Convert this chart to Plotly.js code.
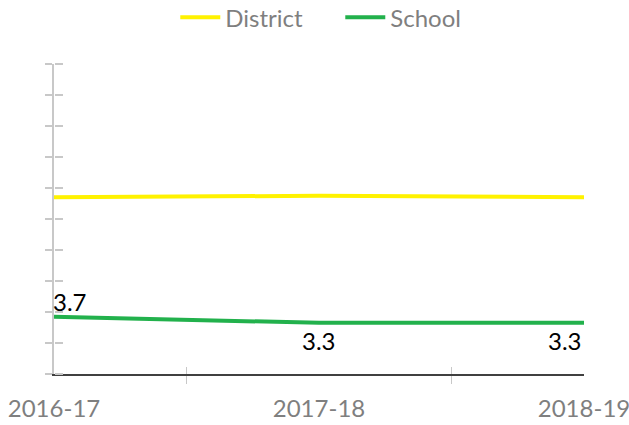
<!DOCTYPE html>
<html>
<head>
<meta charset="utf-8">
<script src="https://cdn.plot.ly/plotly-3.0.1.min.js"></script>
<style>html,body{margin:0;padding:0;background:#fff;}#chart{width:629px;height:425px;}</style>
</head>
<body>
<div id="chart"></div>
<script>
const years = ["2016-17", "2017-18", "2018-19"];
const district = [11.4, 11.5, 11.4];
const school = [3.7, 3.3, 3.3];
const schoolLabels = school.map(v => v.toFixed(1));

const FONT = "Lato, 'Open Sans', sans-serif";

const traces = [
  {
    x: years, y: district, name: "District", type: "scatter", mode: "lines",
    line: {color: "#FFF200", width: 4}, hoverinfo: "skip"
  },
  {
    x: years, y: school, name: "School", type: "scatter", mode: "lines",
    line: {color: "#22B14C", width: 4},
    hoverinfo: "skip"
  },
  {
    x: years, y: school, xaxis: "x", yaxis: "y2", type: "scatter", mode: "lines",
    line: {width: 1, color: "rgba(0,0,0,0)"}, showlegend: false, hoverinfo: "skip"
  },
  {
    x: years, y: school, xaxis: "x2", yaxis: "y", type: "scatter", mode: "lines",
    line: {width: 1, color: "rgba(0,0,0,0)"}, showlegend: false, hoverinfo: "skip"
  }
];

const labelPlacement = [
  {xanchor: "left", yshift: 15, xshift: -3},
  {xanchor: "center", yshift: -18, xshift: 0},
  {xanchor: "right", yshift: -18, xshift: 0}
];
const annotations = years.map((yr, i) => Object.assign({
  x: yr, y: school[i], xref: "x", yref: "y", text: schoolLabels[i],
  showarrow: false, yanchor: "middle",
  font: {family: FONT, size: 24, color: "#000000"}
}, labelPlacement[i]));

const layout = {
  width: 629, height: 425,
  margin: {l: 54, r: 45, t: 64, b: 51, autoexpand: false},
  paper_bgcolor: "#ffffff", plot_bgcolor: "#ffffff",
  font: {family: FONT, size: 24, color: "#7f7f7f"},
  showlegend: true,
  legend: {
    orientation: "h", x: 0.541, xanchor: "center", xref: "container",
    y: 1.222, yref: "paper", yanchor: "top",
    font: {family: FONT, size: 24, color: "#7f7f7f"},
    entrywidth: 110, itemwidth: 40, tracegroupgap: 0
  },
  annotations: annotations,
  xaxis: {
    type: "category", range: [0, 2], tickson: "boundaries",
    ticks: "outside", ticklen: 8, tickwidth: 1.5, tickcolor: "#c8c8c8",
    showline: true, linecolor: "#404040", linewidth: 1.5,
    showgrid: false, zeroline: false,
    tickfont: {family: FONT, size: 24, color: "#7f7f7f"},
    ticklabelstandoff: 13
  },
  yaxis: {
    range: [0, 20], dtick: 2, tick0: 0,
    ticks: "outside", ticklen: 7, tickwidth: 2, tickcolor: "#c8c8c8",
    showline: true, linecolor: "#c8c8c8", linewidth: 2,
    showgrid: false, zeroline: false, showticklabels: false
  },
  xaxis2: {
    type: "category", overlaying: "x", side: "top", anchor: "free", position: 0,
    range: [0, 2], tickson: "boundaries",
    ticks: "outside", ticklen: 7, tickwidth: 1.5, tickcolor: "#c8c8c8",
    showline: false, showgrid: false, zeroline: false, showticklabels: false
  },
  yaxis2: {
    overlaying: "y", side: "right", anchor: "free", position: 0,
    range: [0, 20], dtick: 2, tick0: 0,
    ticks: "outside", ticklen: 8, tickwidth: 2, tickcolor: "#c8c8c8",
    showline: false, showgrid: false, zeroline: false, showticklabels: false
  }
};

Plotly.newPlot("chart", traces, layout, {displayModeBar: false, staticPlot: true});
</script>
</body>
</html>
